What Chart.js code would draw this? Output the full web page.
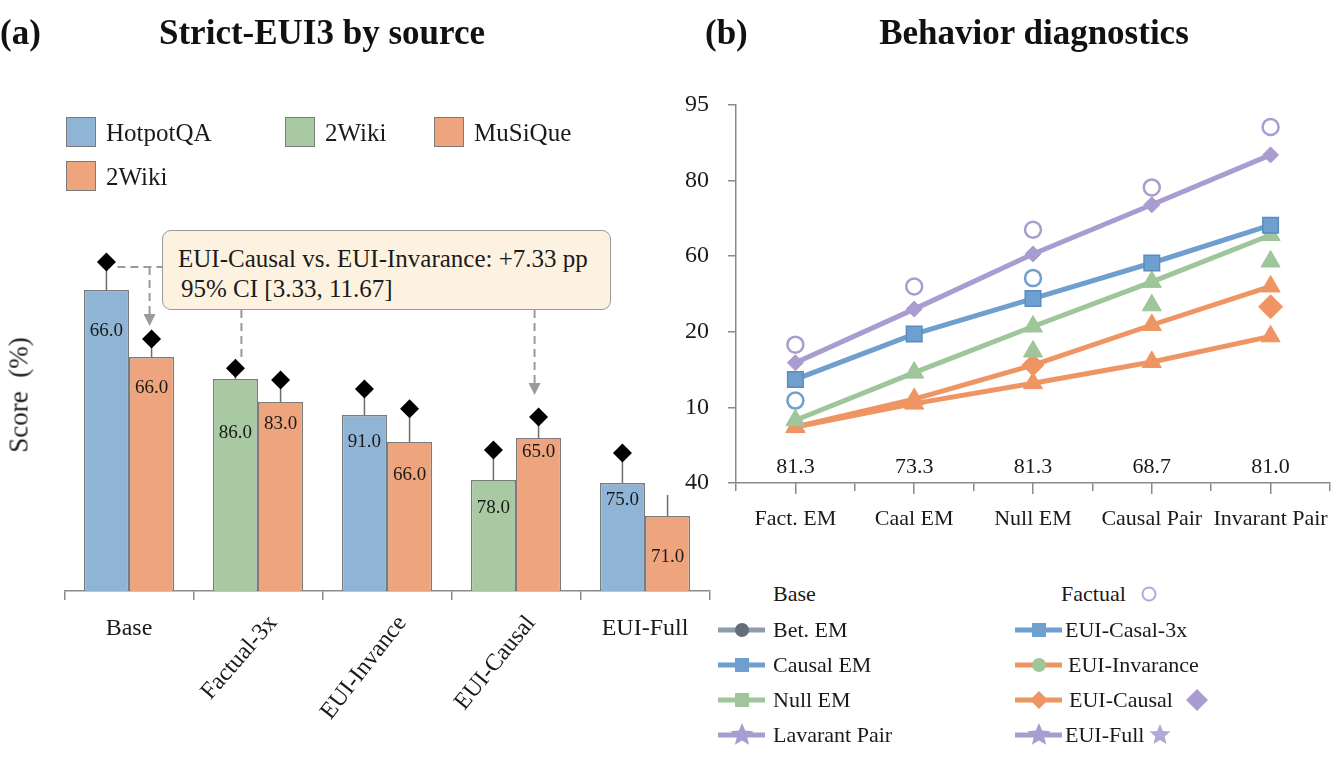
<!DOCTYPE html>
<html>
<head>
<meta charset="utf-8">
<title>Strict-EUI3 by source / Behavior diagnostics</title>
<script src="https://cdn.jsdelivr.net/npm/chart.js@4.4.1/dist/chart.umd.min.js"></script>
<style>
  html, body { margin: 0; padding: 0; background: #fff; }
  body { position: relative; width: 1344px; height: 768px; overflow: hidden;
         font-family: "Liberation Serif", "Times New Roman", serif; color: #1a1a1a; }
  canvas { position: absolute; top: 0; }
  .t { position: absolute; white-space: nowrap; line-height: 1; transform: translateY(-50%); }
  .c { transform: translate(-50%, -50%); }
  .title { font-weight: bold; font-size: 35px; color: #111; }
  .lg { font-size: 25px; }
  .rl { font-size: 22px; }
  .sw { position: absolute; width: 30px; height: 30px; border: 1.5px solid #7b7b7b; box-sizing: border-box; }
  #note { position: absolute; background: #fdf2df; border: 1.5px solid #9a9a9a; border-radius: 9px; box-sizing: border-box; }
  #note div { position: absolute; font-size: 25px; white-space: nowrap; line-height: 1; transform: translateY(-50%); }
  svg { position: absolute; overflow: visible; }
</style>
</head>
<body>
<canvas id="barChart" width="720" height="768" style="left:0"></canvas>
<canvas id="lineChart" width="672" height="560" style="left:672px"></canvas>

<div class="t title" style="left:0;top:32px">(a)</div>
<div class="t title c" style="left:322px;top:32px">Strict-EUI3 by source</div>
<div class="t title" style="left:705px;top:32px">(b)</div>
<div class="t title c" style="left:1034px;top:32px">Behavior diagnostics</div>
<div class="t c" style="left:19px;top:395px;font-size:27px;transform:translate(-50%,-50%) rotate(-90deg)">Score&nbsp; (%)</div>
<div id="note"><div style="left:15px;top:27px">EUI-Causal vs. EUI-Invarance: +7.33 pp</div><div style="left:18px;top:57px">95% CI [3.33, 11.67]</div></div>
<div id="legends"></div>

<script>
// ---------- panel (a): Strict-EUI3 by source ----------
const sources = ['Base', 'Factual-3x', 'EUI-Invance', 'EUI-Causal', 'EUI-Full'];
const firstSource = ['HotpotQA', '2Wiki', 'HotpotQA', '2Wiki', 'HotpotQA'];
const firstBar = [83.6, 58.9, 48.9, 30.8, 30.0];
const secondBar = [65.0, 52.5, 41.4, 42.5, 20.8];
const firstWhisker = [91.4, 61.9, 56.1, 39.2, 38.3];
const secondWhisker = [70.0, 58.6, 50.6, 48.3, 26.7];
const secondHasDiamond = [true, true, true, true, false];
const firstText = ['66.0', '86.0', '91.0', '78.0', '75.0'];
const secondText = ['66.0', '83.0', '66.0', '65.0', '71.0'];

// ---------- panel (b): Behavior diagnostics ----------
const metrics = ['Fact. EM', 'Caal EM', 'Null EM', 'Causal Pair', 'Invarant Pair'];
const metricNotes = ['81.3', '73.3', '81.3', '68.7', '81.0'];
const yTickText = ['40', '10', '20', '60', '80', '95'];
const purpleLine = [1.59, 2.30, 3.03, 3.68, 4.34];
const purpleRings = [1.83, 2.60, 3.35, 3.91, 4.71];
const blueLine = [1.37, 1.97, 2.44, 2.91, 3.41];
const blueRings = [1.09, null, 2.71, null, null];
const greenLine = [0.83, 1.46, 2.07, 2.66, 3.28];
const greenExtra = [null, null, 1.74, 2.35, 2.93];
const orangeUpper = [0.74, 1.11, 1.56, 2.09, 2.60];
const orangeLower = [0.74, 1.05, 1.32, 1.60, 1.94];
const orangeExtra = [null, null, null, null, 2.33];

const SERIF = '"Liberation Serif", "Times New Roman", serif';
const BAR_BLUE = '#8fb4d6', BAR_GREEN = '#a9c9a2', BAR_ORANGE = '#eea47c';
const BLUE = '#6f9fcf', GREEN = '#9fc59b', ORANGE = '#ef9563', PURPLE = '#a99cd0';
const AXIS = '#8a8a8a';

// label drop inside the bars (px below the bar top)
const firstDrop = [41, 54, 27, 28, 17];
const secondDrop = [31, 22, 33, 14, 41];
const labelTilt = [0, 49, 52, 51, 0];
const noteBox = { x: 162, y: 230, w: 449, h: 80 };

const note = document.getElementById('note');
note.style.left = noteBox.x + 'px';
note.style.top = noteBox.y + 'px';
note.style.width = noteBox.w + 'px';
note.style.height = noteBox.h + 'px';

function diamond(ctx, x, y, r) {
  ctx.beginPath();
  ctx.moveTo(x, y - r);
  ctx.lineTo(x + r, y);
  ctx.lineTo(x, y + r);
  ctx.lineTo(x - r, y);
  ctx.closePath();
  ctx.fill();
}

// whiskers with a black diamond cap, anchored on each bar
const whiskers = {
  id: 'whiskers',
  afterDatasetsDraw(chart) {
    const { ctx, scales: { y } } = chart;
    ctx.save();
    [[0, firstWhisker, null], [1, secondWhisker, secondHasDiamond]].forEach(([di, tops, caps]) => {
      chart.getDatasetMeta(di).data.forEach((bar, i) => {
        const ty = y.getPixelForValue(tops[i]);
        ctx.strokeStyle = '#6d6d6d';
        ctx.lineWidth = 1.5;
        ctx.beginPath();
        ctx.moveTo(bar.x, bar.y);
        ctx.lineTo(bar.x, ty);
        ctx.stroke();
        if (!caps || caps[i]) {
          ctx.fillStyle = '#000';
          diamond(ctx, bar.x, ty, 9.5);
        }
      });
    });
    ctx.restore();
  }
};

const barText = {
  id: 'barText',
  afterDatasetsDraw(chart) {
    const ctx = chart.ctx;
    ctx.save();
    ctx.fillStyle = '#1a1a1a';
    ctx.font = '19px ' + SERIF;
    ctx.textAlign = 'center';
    ctx.textBaseline = 'middle';
    [[0, firstText, firstDrop], [1, secondText, secondDrop]].forEach(([di, texts, drops]) => {
      chart.getDatasetMeta(di).data.forEach((bar, i) => {
        ctx.fillText(texts[i], bar.x, bar.y + drops[i]);
      });
    });
    // category labels, some tilted
    const x = chart.scales.x;
    ctx.font = '24px ' + SERIF;
    sources.forEach((s, i) => {
      const px = x.getPixelForValue(i);
      if (!labelTilt[i]) {
        ctx.textAlign = 'center';
        ctx.fillText(s, px, 629);
      } else {
        ctx.save();
        ctx.translate(px + 15, 619);
        ctx.rotate(-labelTilt[i] * Math.PI / 180);
        ctx.textAlign = 'right';
        ctx.fillText(s, 0, 0);
        ctx.restore();
      }
    });
    ctx.restore();
  }
};

function arrowDown(ctx, x, tip) {
  ctx.beginPath();
  ctx.moveTo(x - 6, tip - 12);
  ctx.lineTo(x + 6, tip - 12);
  ctx.lineTo(x, tip);
  ctx.closePath();
  ctx.fill();
}

const connectors = {
  id: 'connectors',
  afterDatasetsDraw(chart) {
    const { ctx, scales: { y } } = chart;
    const a = chart.getDatasetMeta(0).data, b = chart.getDatasetMeta(1).data;
    const bottom = noteBox.y + noteBox.h;
    ctx.save();
    ctx.strokeStyle = '#9a9a9a';
    ctx.fillStyle = '#9a9a9a';
    ctx.lineWidth = 2;
    ctx.setLineDash([8, 5]);
    const hy = y.getPixelForValue(firstWhisker[0]) + 5;
    const tip1 = y.getPixelForValue(secondWhisker[0]) - 13;
    const tip3 = y.getPixelForValue(secondWhisker[3]) - 22;
    ctx.beginPath();
    ctx.moveTo(a[0].x + 11, hy);
    ctx.lineTo(noteBox.x, hy);
    ctx.moveTo(b[0].x - 2, hy);
    ctx.lineTo(b[0].x - 2, tip1 - 12);
    ctx.moveTo(a[1].x + 6, bottom);
    ctx.lineTo(a[1].x + 6, y.getPixelForValue(firstWhisker[1]) - 9);
    ctx.moveTo(b[3].x - 4, bottom);
    ctx.lineTo(b[3].x - 4, tip3 - 12);
    ctx.stroke();
    ctx.setLineDash([]);
    arrowDown(ctx, b[0].x - 2, tip1);
    arrowDown(ctx, b[3].x - 4, tip3);
    ctx.restore();
  }
};

new Chart(document.getElementById('barChart'), {
  type: 'bar',
  data: {
    labels: sources,
    datasets: [
      {
        label: 'HotpotQA / 2Wiki',
        data: firstBar,
        backgroundColor: firstSource.map(s => s === 'HotpotQA' ? BAR_BLUE : BAR_GREEN),
        borderColor: '#7b7b7b', borderWidth: 1.5
      },
      {
        label: 'MuSiQue / 2Wiki',
        data: secondBar,
        backgroundColor: BAR_ORANGE,
        borderColor: '#7b7b7b', borderWidth: 1.5
      }
    ]
  },
  options: {
    responsive: false,
    animation: false,
    categoryPercentage: 0.7,
    barPercentage: 1,
    layout: { padding: { left: 64.5, right: 10.5, top: 231, bottom: 168 } },
    plugins: { legend: { display: false }, tooltip: { enabled: false } },
    scales: {
      x: {
        offset: true,
        grid: { offset: true, drawOnChartArea: false, color: AXIS, lineWidth: 1.5, tickLength: 9 },
        border: { color: AXIS, width: 1.5 },
        ticks: { display: false }
      },
      y: { display: false, min: 0, max: 100 }
    }
  },
  plugins: [whiskers, barText, connectors]
});

// ---------- panel (b) chart ----------
const notesPlugin = {
  id: 'notes',
  afterDraw(chart) {
    const { ctx, scales: { x } } = chart;
    ctx.save();
    ctx.fillStyle = '#1a1a1a';
    ctx.font = '22px ' + SERIF;
    ctx.textAlign = 'center';
    ctx.textBaseline = 'middle';
    metricNotes.forEach((t, i) => ctx.fillText(t, x.getPixelForValue(i), 467));
    ctx.restore();
  }
};

function lineSet(label, data, color, style, radius, extra) {
  return Object.assign({
    label, data,
    borderColor: color, backgroundColor: color, borderWidth: 5,
    pointStyle: style, pointRadius: radius,
    pointBackgroundColor: color, pointBorderColor: color, pointBorderWidth: 1,
    tension: 0
  }, extra || {});
}

new Chart(document.getElementById('lineChart'), {
  type: 'line',
  data: {
    labels: metrics,
    datasets: [
      lineSet('EUI-Full', purpleLine, PURPLE, 'rectRot', 8),
      lineSet('Factual', purpleRings, PURPLE, 'circle', 8,
        { showLine: false, pointBackgroundColor: '#fff', pointBorderWidth: 2.5 }),
      lineSet('Causal EM', blueLine, BLUE, 'rect', 11, { pointBorderColor: '#5b8cbf', pointBorderWidth: 1.5 }),
      lineSet('Factual (blue)', blueRings, BLUE, 'circle', 8,
        { showLine: false, pointBackgroundColor: '#fff', pointBorderWidth: 2.5 }),
      lineSet('Null EM', greenLine, GREEN, 'triangle', 11),
      lineSet('Null EM (extra)', greenExtra, GREEN, 'triangle', 11, { showLine: false }),
      lineSet('EUI-Causal', orangeUpper, ORANGE, ['triangle', 'triangle', 'rectRot', 'triangle', 'triangle'], 11),
      lineSet('EUI-Invarance', orangeLower, ORANGE, 'triangle', 11),
      lineSet('EUI-Causal (extra)', orangeExtra, ORANGE, 'rectRot', 12, { showLine: false })
    ]
  },
  options: {
    responsive: false,
    animation: false,
    layout: { padding: { left: 0, right: 12, top: 105, bottom: 17 } },
    plugins: { legend: { display: false }, tooltip: { enabled: false } },
    scales: {
      x: {
        offset: true,
        grid: { offset: true, drawOnChartArea: false, color: AXIS, lineWidth: 1.5, tickLength: 8 },
        border: { color: AXIS, width: 1.5 },
        ticks: { font: { family: SERIF, size: 22 }, color: '#1a1a1a', padding: 15, maxRotation: 0, autoSkip: false },
        afterFit: s => { s.height = 60; }
      },
      xc: {
        type: 'category', axis: 'x', position: { y: 0 }, offset: true,
        grid: { offset: false, drawOnChartArea: false, color: AXIS, lineWidth: 1.5, tickLength: 11 },
        border: { display: false },
        ticks: { display: false }
      },
      y: {
        min: 0, max: 5,
        grid: { drawOnChartArea: false, color: AXIS, lineWidth: 1.5, tickLength: 8 },
        border: { color: AXIS, width: 1.5 },
        ticks: { stepSize: 1, callback: v => yTickText[v], font: { family: SERIF, size: 24 }, color: '#1a1a1a', padding: 19 },
        afterFit: s => { s.width = 64; }
      }
    }
  },
  plugins: [notesPlugin]
});

// ---------- legends (HTML) ----------
const leftLegend = [
  { text: 'HotpotQA', color: BAR_BLUE, x: 66, y: 132 },
  { text: '2Wiki', color: BAR_GREEN, x: 285, y: 132 },
  { text: 'MuSiQue', color: BAR_ORANGE, x: 434, y: 132 },
  { text: '2Wiki', color: BAR_ORANGE, x: 66, y: 176 }
];

const rightLegend = [
  { text: 'Bet. EM', x: 718, tx: 773, y: 630, line: '#8e9dac', mk: 'circle', mc: '#646d79' },
  { text: 'Causal EM', x: 718, tx: 773, y: 665, line: BLUE, mk: 'square', mc: BLUE },
  { text: 'Null EM', x: 718, tx: 773, y: 700, line: GREEN, mk: 'square', mc: GREEN },
  { text: 'Lavarant Pair', x: 718, tx: 773, y: 735, line: PURPLE, mk: 'star', mc: PURPLE },
  { text: 'EUI-Casal-3x', x: 1015, tx: 1065, y: 630, line: BLUE, mk: 'square', mc: BLUE },
  { text: 'EUI-Invarance', x: 1015, tx: 1068, y: 665, line: ORANGE, mk: 'circle', mc: GREEN },
  { text: 'EUI-Causal', x: 1015, tx: 1069, y: 700, line: ORANGE, mk: 'diamond', mc: ORANGE, tail: ['diamond', 1197, PURPLE, 11] },
  { text: 'EUI-Full', x: 1015, tx: 1065, y: 735, line: PURPLE, mk: 'star', mc: PURPLE, tail: ['star', 1160, '#b3a8d8', 11] }
];

function shape(kind, cx, cy, r, fill, stroke) {
  if (kind === 'circle') {
    return stroke
      ? `<circle cx="${cx}" cy="${cy}" r="${r}" fill="#fff" stroke="${stroke}" stroke-width="2"/>`
      : `<circle cx="${cx}" cy="${cy}" r="${r}" fill="${fill}"/>`;
  }
  if (kind === 'square') return `<rect x="${cx - r}" y="${cy - r}" width="${2 * r}" height="${2 * r}" fill="${fill}"/>`;
  if (kind === 'diamond') return `<polygon points="${cx},${cy - r} ${cx + r},${cy} ${cx},${cy + r} ${cx - r},${cy}" fill="${fill}"/>`;
  const pts = [];
  for (let k = 0; k < 10; k++) {
    const rr = k % 2 ? r * 0.45 : r;
    const ang = -Math.PI / 2 + k * Math.PI / 5;
    pts.push((cx + rr * Math.cos(ang)).toFixed(1) + ',' + (cy + rr * Math.sin(ang)).toFixed(1));
  }
  return `<polygon points="${pts.join(' ')}" fill="${fill}"/>`;
}

let html = '';
leftLegend.forEach(e => {
  html += `<div class="sw" style="left:${e.x}px;top:${e.y - 15}px;background:${e.color}"></div>`;
  html += `<div class="t lg" style="left:${e.x + 40}px;top:${e.y}px">${e.text}</div>`;
});
html += `<div class="t rl" style="left:773px;top:594px">Base</div>`;
html += `<div class="t rl" style="left:1061px;top:594px">Factual</div>`;
html += `<svg style="left:0;top:0" width="1" height="1">${shape('circle', 1149, 594, 6.5, null, '#b3a8d8')}</svg>`;
rightLegend.forEach(e => {
  const mid = e.x + 24;
  const r = e.mk === 'star' ? 12 : (e.mk === 'diamond' ? 9 : 7);
  html += `<svg style="left:0;top:0" width="1" height="1">` +
    `<line x1="${e.x}" y1="${e.y}" x2="${e.x + 47}" y2="${e.y}" stroke="${e.line}" stroke-width="5"/>` +
    shape(e.mk, mid, e.y, r, e.mc) +
    (e.tail ? shape(e.tail[0], e.tail[1], e.y, e.tail[3], e.tail[2]) : '') +
    `</svg>`;
  html += `<div class="t rl" style="left:${e.tx}px;top:${e.y}px">${e.text}</div>`;
});
document.getElementById('legends').innerHTML = html;
</script>
</body>
</html>
